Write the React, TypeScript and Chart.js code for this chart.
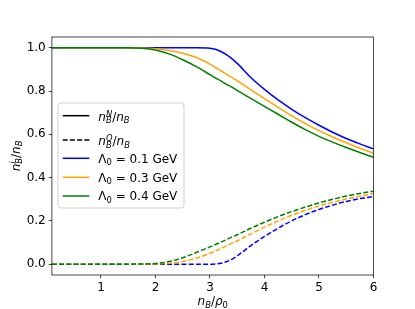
import React, { useEffect, useRef } from "react";
import { Chart, registerables } from "chart.js";

Chart.register(...registerables);

// ---- data ----
const X = [0.1, 0.5, 1.0, 1.5, 1.75, 2.0, 2.25, 2.5, 2.75, 3.0, 3.1, 3.2, 3.3, 3.4, 3.5, 3.75, 4.0, 4.25, 4.5, 4.75, 5.0, 5.25, 5.5, 5.75, 6.0];
const blueN = [1, 1, 1, 1, 1, 1, 1, 1, 1, 0.998, 0.993, 0.983, 0.968, 0.95, 0.928, 0.863, 0.808, 0.759, 0.716, 0.677, 0.642, 0.61, 0.581, 0.556, 0.533];
const orangeN = [1, 1, 1, 1, 0.999, 0.996, 0.988, 0.975, 0.955, 0.925, 0.909, 0.894, 0.878, 0.863, 0.848, 0.806, 0.765, 0.725, 0.685, 0.65, 0.617, 0.588, 0.561, 0.536, 0.513];
const greenN = [1, 1, 1, 1, 0.998, 0.99, 0.972, 0.945, 0.913, 0.876, 0.861, 0.847, 0.832, 0.818, 0.803, 0.766, 0.729, 0.693, 0.656, 0.622, 0.591, 0.564, 0.539, 0.516, 0.494];
const blueQ = [0, 0, 0, 0, 0, 0, 0, 0, 0, 0, 0.001, 0.004, 0.011, 0.022, 0.038, 0.086, 0.128, 0.166, 0.2, 0.229, 0.253, 0.273, 0.29, 0.303, 0.313];
const orangeQ = [0, 0, 0, 0, 0, 0.001, 0.004, 0.012, 0.028, 0.05, 0.061, 0.072, 0.084, 0.096, 0.108, 0.14, 0.171, 0.2, 0.226, 0.249, 0.269, 0.286, 0.301, 0.314, 0.326];
const greenQ = [0, 0, 0, 0, 0.001, 0.003, 0.012, 0.03, 0.054, 0.08, 0.091, 0.102, 0.113, 0.125, 0.136, 0.166, 0.194, 0.22, 0.243, 0.264, 0.283, 0.3, 0.315, 0.327, 0.337];
const X_TICKS = [1, 2, 3, 4, 5, 6];
const Y_TICKS = [0, 0.2, 0.4, 0.6, 0.8, 1.0];
const LAMBDAS = ["0.1", "0.3", "0.4"];

const BLUE = "#0000ff";
const ORANGE = "#ffa500";
const GREEN = "#008000";
const COLORS = [BLUE, ORANGE, GREEN];
const LW = 1.5;
const DASH = [5, 2.2];
const FONT = '"DejaVu Sans", sans-serif';

type Tok = { b: string; bi?: boolean; sub?: string; subi?: boolean; sup?: string; supi?: boolean };

function f(size: number, it?: boolean) {
  return `${it ? "italic " : ""}${size}px ${FONT}`;
}
function measureMath(ctx: CanvasRenderingContext2D, toks: Tok[], size: number) {
  let w = 0;
  for (const t of toks) {
    ctx.font = f(size, t.bi);
    w += ctx.measureText(t.b).width;
    let sw = 0;
    if (t.sub) { ctx.font = f(size * 0.7, t.subi); sw = Math.max(sw, ctx.measureText(t.sub).width); }
    if (t.sup) { ctx.font = f(size * 0.7, t.supi); sw = Math.max(sw, ctx.measureText(t.sup).width); }
    w += sw;
  }
  return w;
}
function drawMath(ctx: CanvasRenderingContext2D, toks: Tok[], x: number, y: number, size: number) {
  ctx.textBaseline = "alphabetic";
  ctx.textAlign = "left";
  ctx.fillStyle = "#000";
  let cx = x;
  for (const t of toks) {
    ctx.font = f(size, t.bi);
    ctx.fillText(t.b, cx, y);
    cx += ctx.measureText(t.b).width;
    let sw = 0;
    if (t.sub) {
      ctx.font = f(size * 0.7, t.subi);
      ctx.fillText(t.sub, cx, y + size * 0.22);
      sw = Math.max(sw, ctx.measureText(t.sub).width);
    }
    if (t.sup) {
      ctx.font = f(size * 0.7, t.supi);
      ctx.fillText(t.sup, cx, y - size * 0.33);
      sw = Math.max(sw, ctx.measureText(t.sup).width);
    }
    cx += sw;
  }
}

const labelN: Tok[] = [{ b: "n", bi: true, sub: "B", subi: true, sup: "N", supi: true }, { b: "/" }, { b: "n", bi: true, sub: "B", subi: true }];
const labelQ: Tok[] = [{ b: "n", bi: true, sub: "B", subi: true, sup: "Q", supi: true }, { b: "/" }, { b: "n", bi: true, sub: "B", subi: true }];
const xLabel: Tok[] = [{ b: "n", bi: true, sub: "B", subi: true }, { b: "/" }, { b: "ρ", bi: true, sub: "0" }];
const yLabel: Tok[] = [{ b: "n", bi: true, sub: "B", subi: true, sup: "i", supi: true }, { b: "/" }, { b: "n", bi: true, sub: "B", subi: true }];

const decor = {
  id: "decor",
  afterDatasetsDraw(chart: any) {
    const ctx: CanvasRenderingContext2D = chart.ctx;
    const a = chart.chartArea;
    ctx.save();
    // spines
    ctx.strokeStyle = "#000";
    ctx.lineWidth = 0.72;
    ctx.strokeRect(a.left, a.top, a.right - a.left, a.bottom - a.top);

    // axis labels
    const xw = measureMath(ctx, xLabel, 12);
    drawMath(ctx, xLabel, (a.left + a.right) / 2 - xw / 2, 305, 12);
    const yw = measureMath(ctx, yLabel, 12);
    ctx.save();
    ctx.translate(19.5, (a.top + a.bottom) / 2);
    ctx.rotate(-Math.PI / 2);
    drawMath(ctx, yLabel, -yw / 2, 0, 12);
    ctx.restore();

    // legend
    const lx = 58, ly = 103, lw = 126, lh = 105, r = 3;
    ctx.beginPath();
    ctx.moveTo(lx + r, ly);
    ctx.arcTo(lx + lw, ly, lx + lw, ly + lh, r);
    ctx.arcTo(lx + lw, ly + lh, lx, ly + lh, r);
    ctx.arcTo(lx, ly + lh, lx, ly, r);
    ctx.arcTo(lx, ly, lx + lw, ly, r);
    ctx.closePath();
    ctx.fillStyle = "rgba(255,255,255,0.8)";
    ctx.fill();
    ctx.strokeStyle = "#cccccc";
    ctx.lineWidth = 0.9;
    ctx.stroke();

    const rows = [115.7, 140, 158.3, 177.3, 196];
    const hx0 = 62.7, hx1 = 89.3, tx = 98.3;
    const handles = [
      { c: "#000", d: [] as number[] },
      { c: "#000", d: DASH },
      { c: BLUE, d: [] as number[] },
      { c: ORANGE, d: [] as number[] },
      { c: GREEN, d: [] as number[] },
    ];
    handles.forEach((h, i) => {
      ctx.beginPath();
      ctx.setLineDash(h.d);
      ctx.strokeStyle = h.c;
      ctx.lineWidth = LW;
      ctx.moveTo(hx0, rows[i]);
      ctx.lineTo(hx1, rows[i]);
      ctx.stroke();
    });
    ctx.setLineDash([]);
    drawMath(ctx, labelN, tx, rows[0] + 5, 12);
    drawMath(ctx, labelQ, tx, rows[1] + 5, 12);
    LAMBDAS.forEach((l, i) => {
      drawMath(ctx, [{ b: "Λ", sub: "0" }, { b: ` = ${l} GeV` }], tx, rows[2 + i] + 4.4, 12);
    });
    ctx.restore();
  },
};

function pts(ys: number[]) {
  return X.map((x, i) => ({ x, y: ys[i] }));
}

export default function App() {
  const ref = useRef<HTMLCanvasElement | null>(null);
  useEffect(() => {
    document.body.style.margin = "0";
    const canvas = ref.current!;
    const series = [
      { n: blueN, q: blueQ },
      { n: orangeN, q: orangeQ },
      { n: greenN, q: greenQ },
    ];
    const datasets: any[] = [];
    series.forEach((s, i) => {
      const order = 2 - i;
      datasets.push({ data: pts(s.n), borderColor: COLORS[i], borderWidth: LW, pointRadius: 0, cubicInterpolationMode: "monotone", fill: false, order });
      datasets.push({ data: pts(s.q), borderColor: COLORS[i], borderWidth: LW, borderDash: DASH, pointRadius: 0, cubicInterpolationMode: "monotone", fill: false, order });
    });
    const tickFont = { family: FONT, size: 12 };
    const chart = new Chart(canvas, {
      type: "line",
      data: { datasets },
      options: {
        animation: false,
        responsive: true,
        maintainAspectRatio: false,
        layout: { padding: { left: 0, top: 37, right: 41.5, bottom: 0 } },
        plugins: { legend: { display: false }, tooltip: { enabled: false } },
        scales: {
          x: {
            type: "linear",
            min: 0.1,
            max: 6,
            afterBuildTicks: (s: any) => { s.ticks = X_TICKS.map((v) => ({ value: v })); },
            afterFit: (s: any) => { s.height = 34; },
            grid: { display: true, drawOnChartArea: false, drawTicks: true, tickLength: 3.15, color: "#000", lineWidth: 0.72 },
            border: { display: false },
            ticks: { font: tickFont, color: "#000", padding: 3, maxRotation: 0, autoSkip: false, callback: (v: any) => String(v) },
          },
          y: {
            type: "linear",
            min: -0.05,
            max: 1.05,
            afterBuildTicks: (s: any) => { s.ticks = Y_TICKS.map((v) => ({ value: v })); },
            afterFit: (s: any) => { s.width = 51.9; },
            grid: { display: true, drawOnChartArea: false, drawTicks: true, tickLength: 3.15, color: "#000", lineWidth: 0.72 },
            border: { display: false },
            ticks: { font: tickFont, color: "#000", padding: 3, autoSkip: false, callback: (v: any) => Number(v).toFixed(1) },
          },
        },
      },
      plugins: [decor],
    });
    return () => chart.destroy();
  }, []);
  return (
    <div style={{ width: 415, height: 309, position: "relative" }}>
      <canvas ref={ref} />
    </div>
  );
}
